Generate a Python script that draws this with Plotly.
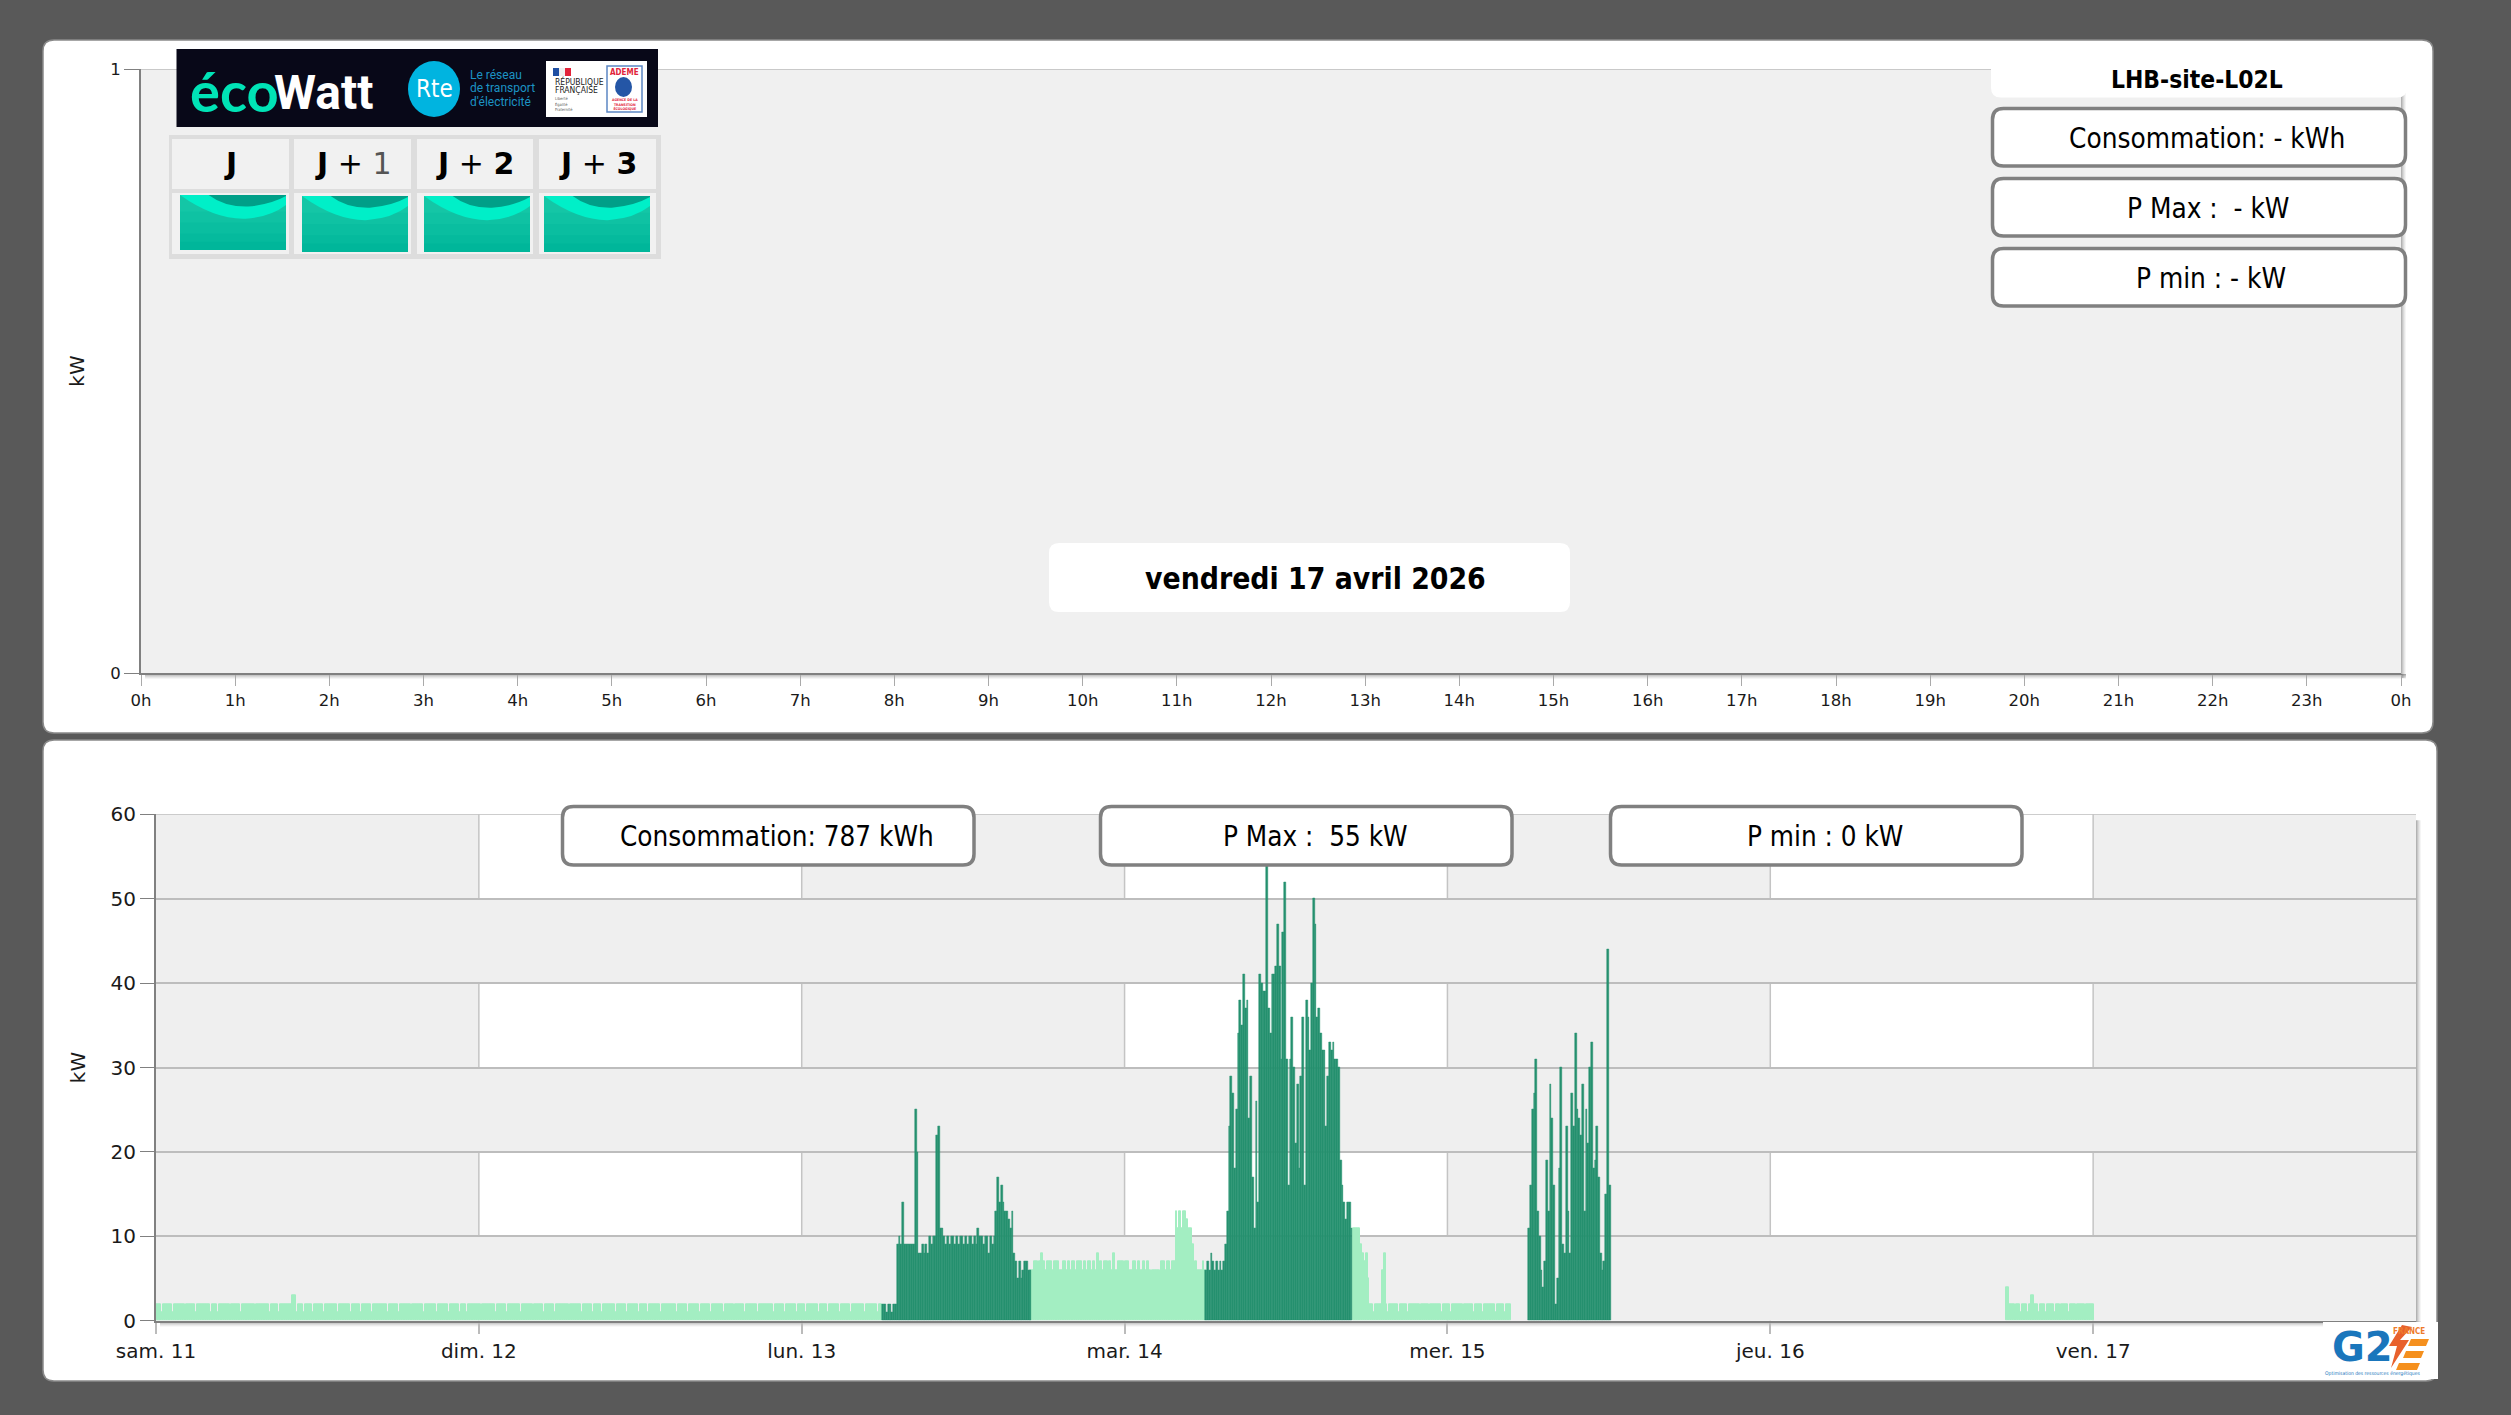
import plotly.graph_objects as go
from datetime import datetime, timedelta

W, H = 2511, 1415

# ---------- data ----------
day_starts = ["2026-04-11", "2026-04-12", "2026-04-13", "2026-04-14", "2026-04-15", "2026-04-16", "2026-04-17", "2026-04-18"]
day_labels = ["sam. 11", "dim. 12", "lun. 13", "mar. 14", "mer. 15", "jeu. 16", "ven. 17"]
hour_ticks = list(range(25))
hour_labels = ["0h", "1h", "2h", "3h", "4h", "5h", "6h", "7h", "8h", "9h", "10h", "11h", "12h", "13h", "14h", "15h", "16h", "17h", "18h", "19h", "20h", "21h", "22h", "23h", "0h"]
sample_minutes = 8

light_1_start = "2026-04-11 00:00"
light_1 = [
 2,2,2,1,2,2,2,2,2,1,2,2,2,2,2,2,1,2,2,2,
 2,2,1,2,2,2,2,2,2,2,1,2,2,2,1,2,2,2,2,2,
 2,1,2,2,2,2,2,1,2,2,2,2,2,2,2,1,2,2,2,2,
 2,2,2,1,2,2,2,2,1,2,2,2,2,2,2,2,3,3,1,2,
 2,2,1,2,2,2,2,1,2,2,2,2,2,1,2,2,2,2,2,2,
 2,1,2,2,2,2,2,2,1,2,2,2,2,2,1,2,2,2,2,2,
 1,2,2,2,2,2,2,2,2,1,2,2,2,2,2,1,2,2,2,2,
 2,2,1,2,2,2,2,2,2,1,2,2,2,2,2,2,1,2,2,2,
 2,2,2,1,2,2,2,2,2,1,2,2,2,1,2,2,2,2,2,2,
 2,1,2,2,2,2,2,2,2,1,2,2,2,2,2,1,2,2,2,2,
 2,2,2,1,2,2,2,2,2,2,1,2,2,2,2,2,1,2,2,2,
 2,2,1,2,2,2,2,2,2,2,1,2,2,2,2,2,2,1,2,2,
 2,2,2,1,2,2,2,2,1,2,2,2,2,2,2,2,1,2,2,2,
 2,2,1,2,2,2,2,2,2,1,2,2,2,2,1,2,2,2,2,2,
 2,1,2,2,2,2,2,2,2,2,1,2,2,2,2,2,1,2,2,2,
 2,2,2,1,2,2,2,2,2,1,2,2,2,2,2,2,1,2,2,2,
 2,2,1,2,2,2,2,2,1,2,2,2,2,2,2,1,2,2,2,2,
 2,2,2,2,1,2,2,2,2,2,1,2,2,2,2,2,2,1,2,2,
 2,2,1,2,2,2,2,2,2,1,2,2,2,2,1,2,2,2,2,2,
 2,1,2,2,2,2,2,1,2,2,2,2,2,2,2,1,2,2,2,2,
 2,2,1,2,2,
]

dark_1_start = "2026-04-13 06:00"
dark_1 = [
 2,2,1,2,2,1,2,2,
 9,10,9,14,9,9,9,9,9,9,25,20,8,8,9,8,9,8,10,9,10,10,22,23,11,11,10,9,10,9,10,10,
 9,10,9,10,10,9,10,9,10,10,9,10,9,11,10,10,9,10,10,8,10,9,10,13,17,14,16,14,13,13,
 12,11,13,8,7,5,7,5,6,7,7,6,6,
]

light_2_start = "2026-04-13 17:00"
light_2 = [
 6,6,7,7,6,7,8,7,6,7,
 7,7,6,7,7,7,6,6,7,7,
 6,7,6,7,7,6,7,7,7,6,
 7,6,7,7,6,7,6,8,6,7,
 6,7,7,6,7,6,8,6,6,7,
 7,7,6,7,7,6,6,7,7,6,
 7,6,6,7,6,7,6,5,6,6,
 6,6,5,7,7,6,7,7,6,7,7,
 13,11,13,11,13,13,12,11,11,9,
 6,7,6,6,6,7,6,
]

dark_2_start = "2026-04-14 06:00"
dark_2 = [
 6,7,6,8,7,6,7,6,7,6,7,
 9,13,23,29,27,18,25,34,38,35,41,37,38,24,29,17,11,26,14,41,
 40,39,39,55,37,34,41,41,42,47,42,31,46,52,31,16,31,36,30,21,
 28,18,29,36,16,38,36,32,40,50,47,36,37,34,32,32,23,29,33,32,
 33,31,31,30,19,16,14,12,14,14,11,
]

light_3_start = "2026-04-14 17:00"
light_3 = [
 11,11,11,11,9,8,7,8,5,
 2,2,1,2,2,2,2,6,8,2,1,2,2,2,2,2,1,2,2,2,
 2,1,2,2,2,2,2,2,1,2,2,2,2,1,2,2,2,2,2,2,
 1,2,2,2,2,1,2,2,2,2,2,2,1,2,2,2,2,2,1,2,
 2,2,2,1,2,2,2,2,2,2,1,2,2,2,2,1,2,2,2,
]

dark_3_start = "2026-04-15 06:00"
dark_3 = [
 11,16,25,27,31,13,10,6,4,7,19,13,28,24,16,2,5,18,30,9,8,23,13,8,27,23,34,25,24,22,
 28,13,25,21,30,33,18,19,23,17,8,6,7,15,44,16,
]

light_4_start = "2026-04-16 17:30"
light_4 = [
 4,4,2,2,2,1,2,2,1,2,2,2,1,2,3,3,2,2,1,2,
 2,2,1,2,2,2,2,1,2,2,1,2,2,2,2,1,2,2,2,1,
 2,2,2,2,1,2,2,2,2,
]

today_hours = [0, 24]
today_power = [None, None]


def times(start, values):
    t0 = datetime.strptime(start, "%Y-%m-%d %H:%M")
    return [t0 + timedelta(minutes=sample_minutes * i) for i in range(len(values))]


light_parts = [(light_1_start, light_1), (light_2_start, light_2), (light_3_start, light_3), (light_4_start, light_4)]
dark_parts = [(dark_1_start, dark_1), (dark_2_start, dark_2), (dark_3_start, dark_3)]
light_x, light_y, dark_x, dark_y = [], [], [], []
for s, v in light_parts:
    light_x += times(s, v)
    light_y += v
for s, v in dark_parts:
    dark_x += times(s, v)
    dark_y += v

# ---------- page geometry helpers ----------
px = lambda x: x / W
py = lambda y: 1 - y / H
shapes, annotations = [], []


def rect(x0, y0, x1, y1, fill, layer="below", line=None, lw=0, opacity=1):
    shapes.append(dict(type="rect", xref="paper", yref="paper", x0=px(x0), x1=px(x1), y0=py(y0), y1=py(y1),
                       fillcolor=fill, layer=layer, opacity=opacity,
                       line=dict(color=line or fill, width=lw)))


def rrect(x0, y0, x1, y1, r, fill, layer="above", line=None, lw=0, corners=(1, 1, 1, 1)):
    tl, tr, br, bl = [r * c for c in corners]
    p = (f"M{px(x0+tl)},{py(y0)} L{px(x1-tr)},{py(y0)} Q{px(x1)},{py(y0)} {px(x1)},{py(y0+tr)} "
         f"L{px(x1)},{py(y1-br)} Q{px(x1)},{py(y1)} {px(x1-br)},{py(y1)} L{px(x0+bl)},{py(y1)} "
         f"Q{px(x0)},{py(y1)} {px(x0)},{py(y1-bl)} L{px(x0)},{py(y0+tl)} Q{px(x0)},{py(y0)} {px(x0+tl)},{py(y0)} Z")
    shapes.append(dict(type="path", xref="paper", yref="paper", path=p, fillcolor=fill, layer=layer,
                       line=dict(color=line or fill, width=lw)))


def poly(points, fill, layer="above"):
    out = []
    for cmd, *c in points:
        pairs = [f"{px(c[i])},{py(c[i+1])}" for i in range(0, len(c), 2)]
        out.append(cmd + " ".join(pairs))
    shapes.append(dict(type="path", xref="paper", yref="paper", path=" ".join(out) + " Z", fillcolor=fill,
                       layer=layer, line=dict(width=0)))


def ellipse(x0, y0, x1, y1, fill, layer="above"):
    shapes.append(dict(type="circle", xref="paper", yref="paper", x0=px(x0), x1=px(x1), y0=py(y0), y1=py(y1),
                       fillcolor=fill, layer=layer, line=dict(width=0)))


def text(x, y, s, size, color="#000000", family="DejaVu Sans Condensed", anchor="center", angle=0):
    annotations.append(dict(xref="paper", yref="paper", x=px(x), y=py(y), text=s, showarrow=False,
                            xanchor=anchor, yanchor="middle", textangle=angle,
                            font=dict(size=size, color=color, family=family)))


# ---------- panels ----------
rrect(43, 40, 2433, 733, 11, "#FFFFFF", layer="below", line="#8A8A8A", lw=1.5)
rrect(43, 740, 2437, 1381, 11, "#FFFFFF", layer="below", line="#8A8A8A", lw=1.5)

TOP = dict(l=141, r=2401, t=69, b=673)
BOT = dict(l=156, r=2416, t=814.3, b=1320.7)

rect(TOP["l"], TOP["t"], TOP["r"], TOP["b"], "#F0F0F0")
for k, a in enumerate([0.30, 0.22, 0.15, 0.09, 0.04]):
    for P in (TOP, BOT):
        rect(P["r"] + k, P["t"] + 6, P["r"] + k + 1, P["b"] + 5, "#000000", opacity=a)
        rect(P["l"] + 4, P["b"] + 1 + k, P["r"] + 5, P["b"] + 2 + k, "#000000", opacity=a)

# checker bands of the week chart, below the gridlines
for i in range(0, 7, 2):
    shapes.append(dict(type="rect", xref="x2", yref="y2", x0=day_starts[i], x1=day_starts[i + 1], y0=0, y1=60,
                       fillcolor="#EFEFEF", layer="below", line=dict(width=0)))
for d in day_starts[1:7]:
    shapes.append(dict(type="line", xref="x2", yref="y2", x0=d, x1=d, y0=0, y1=60, layer="below",
                       line=dict(color="#C4C4C4", width=1.5)))
for lo, hi in [(0, 10), (20, 30), (40, 50)]:
    shapes.append(dict(type="rect", xref="x2", yref="y2", x0=day_starts[0], x1=day_starts[7], y0=lo, y1=hi,
                       fillcolor="#EFEFEF", layer="below", line=dict(width=0)))
# top gridline of each chart
shapes.append(dict(type="line", xref="x", yref="y", x0=hour_ticks[0], x1=hour_ticks[-1], y0=1, y1=1, layer="below",
                   line=dict(color="#BDBDBD", width=1.5)))
shapes.append(dict(type="line", xref="x2", yref="y2", x0=day_starts[0], x1=day_starts[7], y0=60, y1=60, layer="below",
                   line=dict(color="#BDBDBD", width=1.5)))

# ---------- value boxes ----------
BORDER = "#808080"
rrect(1991, 69, 2407, 97.5, 10, "#FFFFFF", corners=(0, 0, 1, 1))
text(2197, 80, "<b>LHB-site-L02L</b>", 24.4)
box_text = [("Consommation: - kWh", 2207, 138), ("P Max :  - kW", 2208, 208), ("P min : - kW", 2211, 278)]
for (s, x, y), (t0, b0) in zip(box_text, [(108.5, 166), (178.5, 236), (248.5, 306)]):
    rrect(1992.5, t0, 2405.5, b0, 11, "#FFFFFF", line=BORDER, lw=3.5)
    text(x, y, s, 27.7)

rrect(1049, 543, 1570, 612, 10, "#FFFFFF")
text(1315, 578, "<b>vendredi 17 avril 2026</b>", 29.8)

week_boxes = [(562.5, 974, "Consommation: 787 kWh", 777), (1100.5, 1512, "P Max :  55 kW", 1315), (1610.5, 2022, "P min : 0 kW", 1825)]
for x0, x1, s, tx in week_boxes:
    rrect(x0, 806.5, x1, 865, 11, "#FFFFFF", line=BORDER, lw=3.5)
    text(tx, 836, s, 27.6)

# ---------- ecowatt logo ----------
rect(176.5, 49, 658, 127, "#080818", layer="above")
text(188, 90, "<b>éco</b>", 56, "#00E3B6", "Lato", "left")
text(272, 92, "<b>Watt</b>", 48, "#FFFFFF", "Roboto", "left")
ellipse(408, 61, 460, 117, "#00B4E0")
text(434, 89, "Rte", 24, "#FFFFFF", "DejaVu Sans Condensed")
for s, y in [("Le réseau", 75), ("de transport", 88), ("d'électricité", 102)]:
    text(468, y, s, 12, "#1C93C4", "Roboto", "left")
rect(546, 61, 647, 117, "#FFFFFF", layer="above")
rect(553, 68, 559, 76, "#1F4FA3", layer="above")
rect(559, 68, 565, 76, "#F0F0F0", layer="above")
rect(565, 68, 571, 76, "#E1233A", layer="above")
text(553, 82, "RÉPUBLIQUE", 8.5, "#222222", "DejaVu Sans Condensed", "left")
text(553, 90, "FRANÇAISE", 8.5, "#222222", "DejaVu Sans Condensed", "left")
for s, y in [("Liberté", 98), ("Égalité", 104), ("Fraternité", 109)]:
    text(553, y, s, 4, "#555555", "DejaVu Sans Condensed", "left")
rect(607, 66, 642, 112, "#FFFFFF", layer="above", line="#5C86C4", lw=1.5)
text(624.5, 72.5, "<b>ADEME</b>", 8, "#E1233A", "DejaVu Sans Condensed")
ellipse(615, 77, 632, 97, "#2456A6")
text(624.5, 104, "<b>AGENCE DE LA<br>TRANSITION<br>ÉCOLOGIQUE</b>", 3.5, "#E1233A", "DejaVu Sans Condensed")

# ---------- J, J+1, J+2, J+3 tempo table ----------
rect(169, 135, 661, 259, "#DDDDDD", layer="above")
cells = [(172, 289), (294, 411), (417, 533), (539, 656)]
tiles = [(180, 286, 195, 250), (302, 408, 196, 252), (424, 530, 196, 252), (544, 650, 196, 252)]
jlabels = ["<b>J</b>", "<b>J</b>&nbsp;+&nbsp;<span style='color:#555555'>1</span>", "<b>J</b>&nbsp;+&nbsp;<b>2</b>", "<b>J</b>&nbsp;+&nbsp;<b>3</b>"]
for (x0, x1), lab in zip(cells, jlabels):
    rect(x0, 139, x1, 189, "#F1F1F1", layer="above")
    rect(x0, 193, x1, 254, "#F1F1F1", layer="above")
    text((x0 + x1) / 2, 163, lab, 30, "#000000", "DejaVu Sans")
for x0, x1, y0, y1 in tiles:
    w, h = x1 - x0, y1 - y0
    u = lambda a: x0 + a * w
    v = lambda a: y0 + a * h
    for a, c in zip([0, 0.3, 0.5, 0.7, 0.85], ["#14C6A6", "#0FC2A3", "#0ABEA0", "#05BA9D", "#00B69A"]):
        rect(x0, v(a), x1, y1, c, layer="above")
    poly([("M", u(0), v(0)), ("Q", u(.33), v(.45), u(.62), v(.43)), ("Q", u(.85), v(.40), u(1), v(.18)),
          ("L", u(1), v(0))], "#00EFC8")
    poly([("M", u(.27), v(0)), ("Q", u(.42), v(.22), u(.64), v(.21)), ("Q", u(.85), v(.18), u(1), v(.02)),
          ("L", u(1), v(0))], "#009F88")

# ---------- G2E logo ----------
rect(2323, 1322, 2438, 1379, "#FFFFFF", layer="above")
text(2362, 1347, "<b>G2</b>", 40, "#1A76BC", "DejaVu Sans", "center")
poly([("M", 2402, 1325), ("L", 2389, 1346), ("L", 2397, 1346), ("L", 2391, 1368), ("L", 2409, 1340), ("L", 2400, 1340), ("L", 2412, 1327)], "#E8602C")
for y, x0, x1 in [(1346, 2408, 2426), (1358, 2403, 2421), (1370, 2396, 2417)]:
    poly([("M", x0 + 3, y - 7), ("L", x1 + 3, y - 7), ("L", x1, y), ("L", x0, y)], "#F5901E")
text(2427, 1331, "<b>FRANCE</b>", 8, "#EE7B2C", "DejaVu Sans Condensed", "right")
text(2372, 1373, "Optimisation des ressources énergétiques", 5, "#1A76BC", "DejaVu Sans Condensed")

# ---------- traces ----------
bar_width = sample_minutes * 60 * 1000
fig = go.Figure()
fig.add_trace(go.Scatter(x=today_hours, y=today_power, xaxis="x", yaxis="y", mode="lines", showlegend=False, hoverinfo="skip"))
fig.add_trace(go.Bar(x=light_x, y=light_y, xaxis="x2", yaxis="y2", width=bar_width, offset=0,
                     marker=dict(color="#A3EEC2", line=dict(color="#A3EEC2", width=1)), showlegend=False))
fig.add_trace(go.Bar(x=dark_x, y=dark_y, xaxis="x2", yaxis="y2", width=bar_width, offset=0,
                     marker=dict(color="#25916F", line=dict(color="#25916F", width=0.5)), showlegend=False))

AX_FONT = dict(family="DejaVu Sans", color="#1A1A1A")
fig.update_layout(
    width=W, height=H, margin=dict(l=0, r=0, t=0, b=0, autoexpand=False), paper_bgcolor="#595959", plot_bgcolor="rgba(0,0,0,0)",
    barmode="overlay", bargap=0, showlegend=False, shapes=shapes, annotations=annotations,
    xaxis=dict(domain=[px(TOP["l"]), px(TOP["r"])], anchor="y", type="linear", range=[0, 24], tickmode="array",
               tickvals=hour_ticks, ticktext=hour_labels, showgrid=False, zeroline=False, showline=True, automargin=False,
               linecolor="#808080", linewidth=2, ticks="outside", ticklen=11, tickcolor="#AAAAAA",
               tickfont=dict(size=16.5, **AX_FONT)),
    yaxis=dict(domain=[py(TOP["b"]), py(TOP["t"])], anchor="x", range=[0, 1], tickmode="array", tickvals=[0, 1], automargin=False,
               showgrid=True, gridcolor="#BDBDBD", gridwidth=1.5, zeroline=False, showline=True, linecolor="#808080",
               linewidth=2, ticks="outside", ticklen=15, tickcolor="#808080", tickfont=dict(size=16.5, **AX_FONT),
               title=dict(text="kW", font=dict(size=20, **AX_FONT), standoff=20)),
    xaxis2=dict(domain=[px(BOT["l"]), px(BOT["r"])], anchor="y2", type="date", automargin=False,
                range=[day_starts[0], day_starts[7]], tickmode="array", tickvals=day_starts[:7], ticktext=day_labels,
                showgrid=False, zeroline=False, showline=True, linecolor="#808080", linewidth=2, ticks="outside",
                ticklen=11, tickcolor="#BBBBBB", tickwidth=1.5, tickfont=dict(size=20, **AX_FONT)),
    yaxis2=dict(domain=[py(BOT["b"]), py(BOT["t"])], anchor="x2", range=[0, 60], tickmode="array", automargin=False,
                tickvals=[0, 10, 20, 30, 40, 50, 60], showgrid=True, gridcolor="#BDBDBD", gridwidth=1.5, zeroline=False,
                showline=True, linecolor="#808080", linewidth=2, ticks="outside", ticklen=14, tickcolor="#808080",
                tickfont=dict(size=20, **AX_FONT),
                title=dict(text="kW", font=dict(size=20, **AX_FONT), standoff=20)),
)
fig.write_html("out.html", config=dict(displayModeBar=False),
               post_script="document.body.style.margin='0';document.body.style.overflow='hidden';")
